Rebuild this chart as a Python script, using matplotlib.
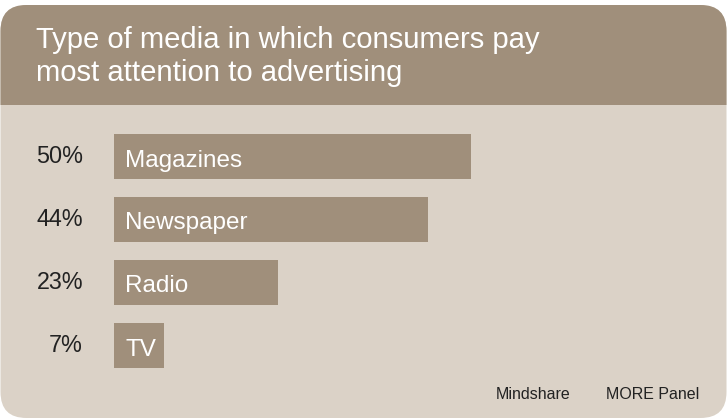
import matplotlib
matplotlib.use("Agg")
import matplotlib.pyplot as plt
from matplotlib.patches import FancyBboxPatch, Rectangle

plt.rcParams['font.family'] = ['Liberation Sans', 'DejaVu Sans']

categories = ["Magazines", "Newspaper", "Radio", "TV"]
shares = [50, 44, 23, 7]
title_lines = ["Type of media in which consumers pay",
               "most attention to advertising"]
sources = ["Mindshare", "MORE Panel"]

HEADER = "#a08f7b"
BODY = "#dbd2c7"
BAR = "#a08f7b"
INK = "#222222"

W, H = 728, 419
fig = plt.figure(figsize=(W / 100, H / 100), dpi=100)
fig.patch.set_facecolor("white")

# background layer in pixel coordinates
bg = fig.add_axes([0, 0, 1, 1])
bg.set_xlim(0, W)
bg.set_ylim(H, 0)
bg.axis("off")

panel = FancyBboxPatch((0.5, 5), 726, 413, boxstyle="round,pad=0,rounding_size=26",
                       facecolor=BODY, edgecolor="none")
bg.add_patch(panel)
header = Rectangle((0, 0), W, 105, facecolor=HEADER, edgecolor="none")
bg.add_patch(header)
header.set_clip_path(panel)

bg.text(36, 48, title_lines[0], color="white", fontsize=21.1, va="baseline", ha="left")
bg.text(36, 81, title_lines[1], color="white", fontsize=21.1, va="baseline", ha="left")
bg.text(496, 399, sources[0], color=INK, fontsize=11.5, va="baseline", ha="left")
bg.text(606, 399, sources[1], color=INK, fontsize=11.5, va="baseline", ha="left")

# bar chart layer
left_px, right_px = 114, 714
top_px, bot_px = 125, 377
ax = fig.add_axes([left_px / W, 1 - bot_px / H, (right_px - left_px) / W, (bot_px - top_px) / H])
ax.set_xlim(0, 84)
ax.set_ylim(3.5, -0.5)
ax.axis("off")

ypos = list(range(len(categories)))
ax.barh(ypos, shares, height=0.7, color=BAR, edgecolor="none")
for y, cat, v in zip(ypos, categories, shares):
    ax.annotate(cat, xy=(0, y), xytext=(8.0, -7.2), textcoords="offset points",
                color="white", fontsize=17.5, va="baseline", ha="left")
    ax.annotate(f"{v}%", xy=(0, y), xytext=(-22.3, -5.0), textcoords="offset points",
                color=INK, fontsize=16.8, va="baseline", ha="right", annotation_clip=False)

fig.savefig("out.png", dpi=100, facecolor="white")
